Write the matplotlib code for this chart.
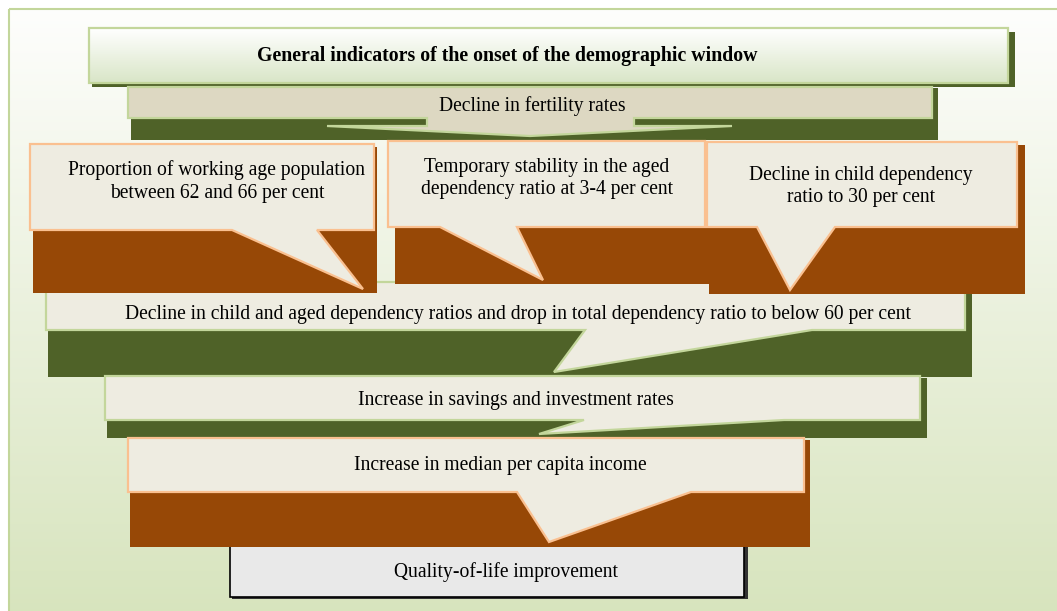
import numpy as np
import matplotlib
matplotlib.use('Agg')
import matplotlib.pyplot as plt
from matplotlib.patches import Rectangle, Polygon

# Texts of the diagram, top to bottom
title = "General indicators of the onset of the demographic window"
fertility = "Decline in fertility rates"
row_texts = ["Proportion of working age population\nbetween 62 and 66 per cent",
             "Temporary stability in the aged\ndependency ratio at 3-4 per cent",
             "Decline in child dependency\nratio to 30 per cent"]
dependency = "Decline in child and aged dependency ratios and drop in total dependency ratio to below 60 per cent"
savings = "Increase in savings and investment rates"
income = "Increase in median per capita income"
quality = "Quality-of-life improvement"

# Colours
DARK_GREEN = '#4f6228'
BROWN = '#974806'
LIGHT_FILL = '#eeece1'
TAN = '#ddd8c2'
ORANGE_EDGE = '#fac090'
GREEN_EDGE = '#c3d69b'
FONT = 'Liberation Serif'
FS = 14.1
DY = 2.5  # small downward nudge for the text baselines

fig = plt.figure(figsize=(10.57, 6.11), dpi=100)
ax = fig.add_axes([0, 0, 1, 1])
ax.set_xlim(0, 1057)
ax.set_ylim(611, 0)
ax.axis('off')

# background panel with vertical gradient
grad = np.linspace(0, 1, 256).reshape(-1, 1)
top = np.array([0.995, 0.995, 0.99])
bot = np.array([0.843, 0.894, 0.741])
img = top + (bot - top) * grad[:, :, None]
ax.imshow(img, extent=[9, 1070, 620, 9], aspect='auto', zorder=0)
ax.add_patch(Rectangle((9, 9), 1070, 620, fill=False, ec=GREEN_EDGE, lw=1.5, zorder=1))

shadow_col = {}


def callout(x0, y0, x1, y1, p1, p2, tip, shadow, fill, edge, z):
    sx0, sy0, sx1, sy1 = shadow
    ax.add_patch(Rectangle((sx0, sy0), sx1 - sx0, sy1 - sy0, color=shadow_col[z], lw=0, zorder=z))
    pts = [(x0, y0), (x1, y0), (x1, y1), (p2, y1), tip, (p1, y1), (x0, y1)]
    ax.add_patch(Polygon(pts, closed=True, fc=fill, ec=edge, lw=1.6, zorder=z + 0.5, joinstyle='miter'))


# title bar
ax.add_patch(Rectangle((92, 32), 923, 55, color=DARK_GREEN, lw=0, zorder=2))
tb = Rectangle((89, 28), 919, 55, fc='none', ec=GREEN_EDGE, lw=1.6, zorder=3)
tgrad = np.linspace(0, 1, 64).reshape(-1, 1)
timg = np.array([1.0, 1.0, 1.0]) + (np.array([0.85, 0.9, 0.78]) - 1.0) * tgrad[:, :, None]
im = ax.imshow(timg, extent=[89, 1008, 83, 28], aspect='auto', zorder=2.5)
im.set_clip_path(Rectangle((89, 28), 919, 55, transform=ax.transData))
ax.add_patch(tb)
ax.text(507, 54 + DY, title, ha='center', va='center', fontsize=14.3, fontweight='bold',
        family=FONT, color='black', zorder=4)

# fertility callout
ax.add_patch(Rectangle((131, 88), 807, 52, color=DARK_GREEN, lw=0, zorder=4))
fert = [(128, 87), (932, 87), (932, 118), (634, 118), (634, 126), (732, 126),
        (530, 136), (327, 126), (427, 126), (427, 118), (128, 118)]
ax.add_patch(Polygon(fert, closed=True, fc=TAN, ec=GREEN_EDGE, lw=1.6, zorder=4.5))
ax.text(532, 104 + DY, fertility, ha='center', va='center', fontsize=FS, family=FONT, zorder=5)

# big dependency callout
shadow_col[6] = DARK_GREEN
callout(46, 282, 965, 330, 585, 812, (554, 372), (48, 284, 972, 377), LIGHT_FILL, GREEN_EDGE, 6)
ax.text(518, 312 + DY, dependency, ha='center', va='center', fontsize=FS, family=FONT, zorder=7)

# row of three callouts
shadow_col[8] = BROWN
row_boxes = [(30, 144, 374, 230, 232, 317, (363, 289), (33, 147, 377, 293)),
             (388, 141, 705, 227, 440, 517, (543, 280), (395, 144, 710, 284)),
             (707, 142, 1017, 227, 757, 835, (790, 290), (709, 145, 1025, 294))]
row_text_pos = [(217, 179), (547, 176), (861, 184)]
for box, txt, pos in zip(row_boxes, row_texts, row_text_pos):
    callout(*box[:6], box[6], box[7], LIGHT_FILL, ORANGE_EDGE, 8)
    ax.text(pos[0], pos[1] + DY, txt, ha='center', va='center', fontsize=FS, family=FONT,
            linespacing=1.28, zorder=9)

# quality box (under the income shadow)
ax.add_patch(Rectangle((232, 541), 516, 58, color='#333333', lw=0, zorder=10))
ax.add_patch(Rectangle((230, 539), 514, 58, fc='#e9e9e9', ec='black', lw=1.2, zorder=10.5))
ax.text(506, 570 + DY, quality, ha='center', va='center', fontsize=FS, family=FONT, zorder=11)

# savings callout
shadow_col[12] = DARK_GREEN
callout(105, 376, 920, 420, 584, 784, (539, 434), (107, 378, 927, 438), LIGHT_FILL, GREEN_EDGE, 12)
ax.text(516, 398 + DY, savings, ha='center', va='center', fontsize=FS, family=FONT, zorder=13)

# income callout
shadow_col[14] = BROWN
callout(128, 438, 804, 492, 517, 691, (549, 542), (130, 440, 810, 547), LIGHT_FILL, ORANGE_EDGE, 14)
ax.text(500, 463 + DY, income, ha='center', va='center', fontsize=FS, family=FONT, zorder=15)

fig.savefig('out.png', dpi=100)
